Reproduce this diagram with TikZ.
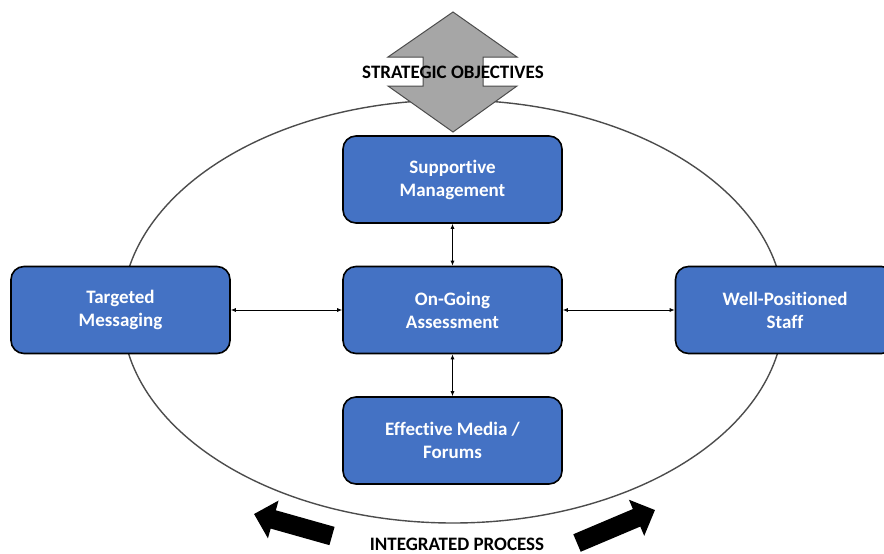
\documentclass[tikz,border=0pt]{standalone}
\usepackage{fontspec}
\setmainfont[Ligatures=NoCommon]{Carlito}
\usetikzlibrary{arrows.meta}
\definecolor{boxblue}{HTML}{4472C4}
\definecolor{diagray}{HTML}{A6A6A6}
\begin{document}
\begin{tikzpicture}[x=1pt,y=-1pt,
  box/.style={draw=black, line width=1.6pt, fill=boxblue, rounded corners=13pt,
    minimum width=219pt, minimum height=87pt, text=white,
    font=\bfseries\fontsize{19}{23}\selectfont, align=center, inner sep=0pt},
  link/.style={line width=0.8pt, {Latex[length=5pt,width=4pt]}-{Latex[length=5pt,width=4pt]}},
  bigarrow/.style={line width=19pt, -{Triangle[length=20pt,width=38pt]}},
  titletext/.style={font=\bfseries\fontsize{19}{23}\selectfont, text=black, inner sep=0pt}]
\clip (0,0) rectangle (884,554);
\draw[line width=1.4pt, draw=black!70] (453,311.5) ellipse [x radius=331, y radius=211.5];
\draw[fill=diagray, draw=black!70, line width=1pt]
  (453,12) -- (517,57) -- (483,57) -- (483,86) -- (517,86) -- (453,132)
  -- (388,86) -- (423,86) -- (423,57) -- (388,57) -- cycle;
\node[titletext] (so) at (453,72) {STRATEGIC OBJECTIVES};
\node[box] (sm) at (452.5,179.5) {Supportive\\Management};
\node[box] (oa) at (452.5,310) {On-Going\\Assessment};
\node[box] (em) at (452.5,440.5) {Effective Media /\\Forums};
\node[box] (tm) at (120.5,310) {Targeted\\Messaging};
\node[box] (ws) at (785,310) {Well-Positioned\\Staff};
\draw[link] (sm) -- (oa);
\draw[link] (oa) -- (em);
\draw[link] (tm) -- (oa);
\draw[link] (oa) -- (ws);
\coordinate (la1) at (332,536);
\coordinate (la2) at (254,514);
\coordinate (ra1) at (577,543);
\coordinate (ra2) at (655,510);
\draw[bigarrow] (la1) -- (la2);
\draw[bigarrow] (ra1) -- (ra2);
\node[titletext] (ip) at (457,544) {INTEGRATED PROCESS};
\end{tikzpicture}
\end{document}
